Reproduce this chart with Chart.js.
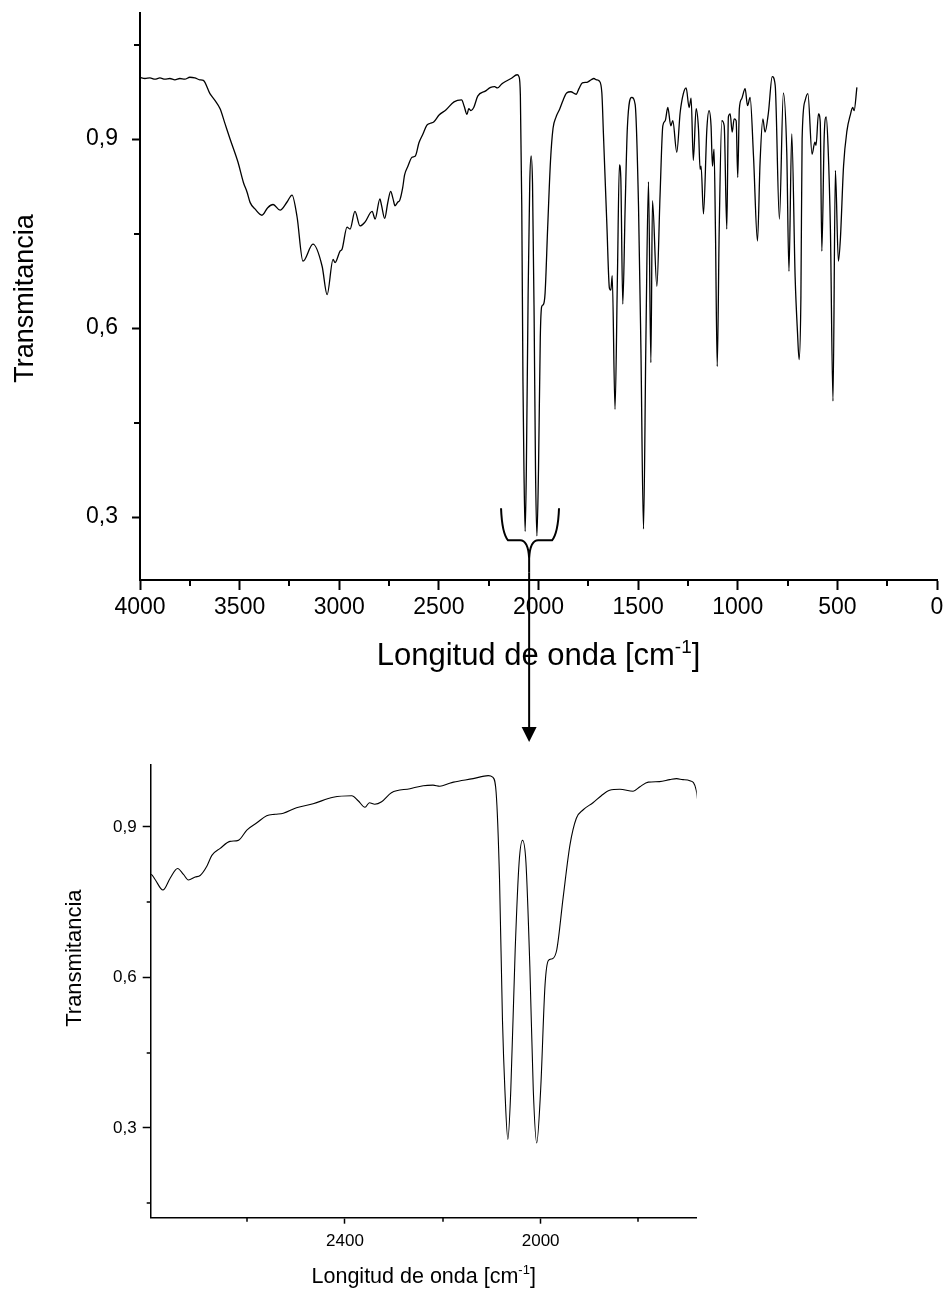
<!DOCTYPE html>
<html lang="es">
<head>
<meta charset="utf-8">
<title>Espectro IR</title>
<script src="https://cdn.jsdelivr.net/npm/chart.js@4.4.1/dist/chart.umd.min.js"></script>
<style>
  html, body { margin: 0; padding: 0; background: #fff; }
  #contenedor { position: relative; width: 950px; height: 1290px; }
  #graficoCompleto { position: absolute; left: 0; top: 0; }
  #graficoDetalle { position: absolute; left: 0; top: 750px; }
</style>
</head>
<body>
<div id="contenedor">
  <canvas id="graficoCompleto" width="950" height="750"></canvas>
  <canvas id="graficoDetalle" width="950" height="540"></canvas>
</div>
<script>
// Espectro: número de onda [cm-1] y transmitancia
const numerosOnda = [
    4000, 3975, 3950, 3925, 3900, 3875, 3850, 3825, 3800, 3775,
    3750, 3725, 3700, 3682, 3649, 3623, 3598, 3573, 3548, 3508,
    3481, 3463, 3447, 3423, 3388, 3359, 3332, 3297, 3262, 3237,
    3212, 3182, 3132, 3086, 3061, 3031, 3021, 2996, 2986, 2961,
    2946, 2921, 2896, 2871, 2835, 2820, 2796, 2788, 2772, 2757,
    2742, 2730, 2720, 2706, 2696, 2682, 2672, 2655, 2635, 2618,
    2600, 2580, 2560, 2543, 2526, 2499, 2465, 2424, 2386, 2373,
    2359, 2350, 2339, 2325, 2305, 2267, 2240, 2220, 2206, 2186,
    2178, 2138, 2107, 2098, 2091, 2084, 2078, 2073, 2067, 2061,
    2052, 2044, 2037, 2030, 2022, 2015, 2008, 2000, 1991, 1984,
    1976, 1967, 1954, 1940, 1927, 1913, 1893, 1876, 1859, 1838,
    1811, 1797, 1780, 1757, 1736, 1722, 1709, 1695, 1682, 1674,
    1657, 1644, 1637, 1630, 1616, 1604, 1594, 1587, 1577, 1565,
    1554, 1532, 1515, 1498, 1486, 1473, 1461, 1448, 1436, 1428,
    1406, 1390, 1376, 1364, 1351, 1336, 1326, 1306, 1289, 1273,
    1259, 1244, 1234, 1223, 1209, 1197, 1189, 1184, 1172, 1155,
    1144, 1134, 1127, 1119, 1112, 1103, 1093, 1080, 1068, 1055,
    1047, 1038, 1028, 1018, 1008, 1000, 992, 980, 963, 951,
    938, 921, 901, 888, 874, 863, 846, 827, 812, 791,
    771, 754, 743, 729, 712, 700, 692, 683, 677, 662,
    648, 627, 613, 607, 595, 586, 578, 566, 556, 547,
    535, 522, 510, 495, 485, 469, 452, 436, 423, 416,
    402
];

const transmitancia = [
    0.998, 0.996, 0.997, 0.995, 0.997, 0.995, 0.996, 0.994, 0.996, 0.995,
    0.998, 0.997, 0.994, 0.993, 0.972, 0.961, 0.948, 0.924, 0.900, 0.863,
    0.831, 0.816, 0.799, 0.789, 0.779, 0.791, 0.796, 0.787, 0.800, 0.811,
    0.777, 0.706, 0.733, 0.698, 0.653, 0.709, 0.704, 0.722, 0.725, 0.760,
    0.757, 0.785, 0.762, 0.768, 0.785, 0.773, 0.805, 0.795, 0.774, 0.798,
    0.817, 0.805, 0.794, 0.800, 0.803, 0.822, 0.843, 0.857, 0.871, 0.873,
    0.894, 0.908, 0.922, 0.925, 0.927, 0.938, 0.946, 0.959, 0.962, 0.952,
    0.939, 0.948, 0.945, 0.950, 0.968, 0.976, 0.982, 0.983, 0.981, 0.987,
    0.989, 0.996, 1.002, 0.999, 0.969, 0.795, 0.515, 0.375, 0.277, 0.375,
    0.655, 0.829, 0.873, 0.829, 0.620, 0.375, 0.270, 0.375, 0.585, 0.634,
    0.637, 0.655, 0.759, 0.864, 0.917, 0.934, 0.948, 0.962, 0.973, 0.975,
    0.971, 0.980, 0.989, 0.990, 0.994, 0.996, 0.994, 0.992, 0.973, 0.907,
    0.765, 0.663, 0.660, 0.683, 0.471, 0.680, 0.859, 0.839, 0.638, 0.793,
    0.918, 0.966, 0.955, 0.793, 0.567, 0.281, 0.580, 0.832, 0.545, 0.802,
    0.666, 0.810, 0.921, 0.929, 0.950, 0.921, 0.929, 0.879, 0.942, 0.972,
    0.981, 0.950, 0.965, 0.866, 0.948, 0.916, 0.852, 0.857, 0.781, 0.916,
    0.945, 0.921, 0.857, 0.884, 0.757, 0.539, 0.757, 0.929, 0.921, 0.757,
    0.935, 0.940, 0.911, 0.932, 0.929, 0.839, 0.948, 0.964, 0.980, 0.953,
    0.966, 0.873, 0.738, 0.863, 0.932, 0.911, 0.942, 0.999, 0.985, 0.773,
    0.973, 0.879, 0.690, 0.908, 0.681, 0.592, 0.550, 0.650, 0.900, 0.961,
    0.972, 0.876, 0.895, 0.890, 0.940, 0.927, 0.722, 0.905, 0.935, 0.890,
    0.757, 0.484, 0.850, 0.706, 0.741, 0.857, 0.913, 0.937, 0.950, 0.945,
    0.982
];

// Marcas y etiquetas del espectro completo
const marcasX1 = [4000, 3750, 3500, 3250, 3000, 2750, 2500, 2250, 2000, 1750, 1500, 1250, 1000, 750, 500, 250, 0];
const etiquetasX1 = ['4000', '', '3500', '', '3000', '', '2500', '', '2000', '', '1500', '', '1000', '', '500', '', '0'];
const marcasY1 = [0.3, 0.45, 0.6, 0.75, 0.9, 1.05];
const etiquetasY1 = ['0,3', '', '0,6', '', '0,9', ''];

// Marcas y etiquetas de la ampliación
const marcasX2 = [2600, 2400, 2200, 2000, 1800];
const etiquetasX2 = ['', '2400', '', '2000', ''];
const marcasY2 = [0.15, 0.3, 0.45, 0.6, 0.75, 0.9];
const etiquetasY2 = ['', '0,3', '', '0,6', '', '0,9'];

const FUENTE = '"Liberation Sans", Arial, Helvetica, sans-serif';
Chart.defaults.font.family = FUENTE;
Chart.defaults.color = '#000';

const puntos = numerosOnda.map((x, i) => ({ x: x, y: transmitancia[i] }));

// Solo las marcas con etiqueta se dibujan largas; las otras las pinta el plugin
function colorMarca(etiquetas) {
    return ctx => etiquetas[ctx.index] ? '#000' : 'rgba(0,0,0,0)';
}

function escalaX(c) {
    return {
        type: 'linear',
        reverse: true,
        min: c.min,
        max: c.max,
        border: { color: '#000', width: c.grosor },
        grid: { drawOnChartArea: false, tickLength: c.largo, tickWidth: c.grosor, tickColor: colorMarca(c.etiquetas) },
        ticks: {
            autoSkip: false, maxRotation: 0, padding: c.separacion,
            font: { size: c.fuente },
            callback: (v, i) => c.etiquetas[i]
        },
        afterBuildTicks: escala => { escala.ticks = c.marcas.map(v => ({ value: v })); },
        afterFit: escala => {
            escala.height = c.alto;
            escala.paddingLeft = 0;
            escala.paddingRight = 0;
        }
    };
}

function escalaY(c) {
    return {
        type: 'linear',
        min: c.min,
        max: c.max,
        border: { color: '#000', width: c.grosor },
        grid: { drawOnChartArea: false, tickLength: c.largo, tickWidth: c.grosor, tickColor: colorMarca(c.etiquetas) },
        ticks: {
            autoSkip: false, padding: c.separacion,
            font: { size: c.fuente },
            callback: (v, i) => c.etiquetas[i]
        },
        afterBuildTicks: escala => { escala.ticks = c.marcas.map(v => ({ value: v })); },
        afterFit: escala => {
            escala.width = c.ancho;
            escala.paddingTop = 0;
            escala.paddingBottom = 0;
        }
    };
}

// Marcas menores (más cortas) en los dos ejes
function pluginMarcasMenores(c) {
    return {
        id: 'marcasMenores',
        afterDraw(chart) {
            const ctx = chart.ctx;
            const ex = chart.scales.x, ey = chart.scales.y;
            ctx.save();
            ctx.strokeStyle = '#000';
            ctx.lineWidth = c.grosor;
            ctx.beginPath();
            c.marcasX.forEach((v, i) => {
                if (c.etiquetasX[i]) return;
                const px = Math.round(ex.getPixelForValue(v));
                ctx.moveTo(px, ex.top);
                ctx.lineTo(px, ex.top + c.largoX);
            });
            c.marcasY.forEach((v, i) => {
                if (c.etiquetasY[i]) return;
                const py = Math.round(ey.getPixelForValue(v));
                ctx.moveTo(ey.right, py);
                ctx.lineTo(ey.right - c.largoY, py);
            });
            ctx.stroke();
            ctx.restore();
        }
    };
}

// Títulos de los ejes, con el exponente de cm^-1
function pluginTitulos(c) {
    return {
        id: 'titulos',
        afterDraw(chart) {
            const ctx = chart.ctx;
            const a = chart.chartArea;
            ctx.save();
            ctx.fillStyle = '#000';
            ctx.textBaseline = 'alphabetic';
            const normal = c.tamX + 'px ' + FUENTE;
            const chica = Math.round(c.tamX * 0.6) + 'px ' + FUENTE;
            const partes = [['Longitud de onda [cm', normal, 0], ['-1', chica, -c.tamX * 0.4], [']', normal, 0]];
            let total = 0;
            partes.forEach(p => { ctx.font = p[1]; total += ctx.measureText(p[0]).width; });
            let x = (a.left + a.right) / 2 - total / 2;
            const y = a.bottom + c.baseX;
            partes.forEach(p => {
                ctx.font = p[1];
                ctx.fillText(p[0], x, y + p[2]);
                x += ctx.measureText(p[0]).width;
            });
            ctx.font = c.tamY + 'px ' + FUENTE;
            ctx.translate(a.left - c.baseY, (a.top + a.bottom) / 2 + c.corrY);
            ctx.rotate(-Math.PI / 2);
            ctx.textAlign = 'center';
            ctx.fillText('Transmitancia', 0, 0);
            ctx.restore();
        }
    };
}

// Llave sobre la zona de 2100-1900 cm-1 y flecha hacia la ampliación
function pluginLlave(c) {
    return {
        id: 'llave',
        afterDraw(chart) {
            const ctx = chart.ctx;
            const ex = chart.scales.x, ey = chart.scales.y;
            const xi = ex.getPixelForValue(c.desde);
            const xd = ex.getPixelForValue(c.hasta);
            const xc = ex.getPixelForValue(c.centro);
            const ya = ey.getPixelForValue(c.arriba);
            const yl = ey.getPixelForValue(c.linea);
            const yp = ey.getPixelForValue(c.punta);
            const r = 7;
            ctx.save();
            ctx.strokeStyle = '#000';
            ctx.fillStyle = '#000';
            ctx.lineWidth = 2;
            ctx.beginPath();
            ctx.moveTo(xi, ya);
            ctx.quadraticCurveTo(xi + 1, yl - r, xi + r, yl);
            ctx.lineTo(xc - 9, yl);
            ctx.quadraticCurveTo(xc - 1, yl, xc, yl + 18);
            ctx.moveTo(xd, ya);
            ctx.quadraticCurveTo(xd - 1, yl - r, xd - r, yl);
            ctx.lineTo(xc + 9, yl);
            ctx.quadraticCurveTo(xc + 1, yl, xc, yl + 18);
            ctx.moveTo(xc, yl + 18);
            ctx.lineTo(xc, yp);
            ctx.stroke();
            // flecha
            const fin = chart.height - c.margenFlecha;
            ctx.beginPath();
            ctx.moveTo(xc, yp);
            ctx.lineTo(xc, fin - 14);
            ctx.stroke();
            ctx.beginPath();
            ctx.moveTo(xc - 7.5, fin - 15);
            ctx.lineTo(xc + 7.5, fin - 15);
            ctx.lineTo(xc, fin);
            ctx.closePath();
            ctx.fill();
            ctx.restore();
        }
    };
}

function crearGrafico(id, escalas, padding, grosorLinea, plugins) {
    const ctx = document.getElementById(id).getContext('2d');
    return new Chart(ctx, {
        type: 'line',
        data: {
            datasets: [{
                data: puntos,
                borderColor: '#000',
                borderWidth: grosorLinea,
                pointRadius: 0,
                fill: false,
                cubicInterpolationMode: 'monotone'
            }]
        },
        options: {
            responsive: false,
            animation: false,
            events: [],
            layout: { padding: padding },
            plugins: { legend: { display: false }, tooltip: { enabled: false } },
            scales: escalas
        },
        plugins: plugins
    });
}

// Espectro completo
crearGrafico('graficoCompleto', {
    x: escalaX({ min: 0, max: 4000, marcas: marcasX1, etiquetas: etiquetasX1, grosor: 2, largo: 10, separacion: 4, fuente: 23, alto: 170 }),
    y: escalaY({ min: 0.2, max: 1.1, marcas: marcasY1, etiquetas: etiquetasY1, grosor: 2, largo: 8, separacion: 14, fuente: 23, ancho: 140 })
}, { left: 0, right: 13, top: 13, bottom: 0 }, 1.3, [
    pluginMarcasMenores({ marcasX: marcasX1, etiquetasX: etiquetasX1, marcasY: marcasY1, etiquetasY: etiquetasY1, grosor: 2, largoX: 6, largoY: 6 }),
    pluginTitulos({ tamX: 31, baseX: 85, tamY: 27, baseY: 107, corrY: 2 }),
    pluginLlave({ desde: 2188, hasta: 1897, centro: 2047, arriba: 0.314, linea: 0.263, punta: 0.212, margenFlecha: 8 })
]);

// Ampliación de la zona 2800-1680 cm-1
crearGrafico('graficoDetalle', {
    x: escalaX({ min: 1681, max: 2797, marcas: marcasX2, etiquetas: etiquetasX2, grosor: 1.5, largo: 6, separacion: 7, fuente: 17, alto: 72.3 }),
    y: escalaY({ min: 0.121, max: 1.024, marcas: marcasY2, etiquetas: etiquetasY2, grosor: 1.5, largo: 8, separacion: 6, fuente: 17, ancho: 150.7 })
}, { left: 0, right: 253.3, top: 14.6, bottom: 0 }, 1.1, [
    pluginMarcasMenores({ marcasX: marcasX2, etiquetasX: etiquetasX2, marcasY: marcasY2, etiquetasY: etiquetasY2, grosor: 1.5, largoX: 4, largoY: 4 }),
    pluginTitulos({ tamX: 21.5, baseX: 65, tamY: 22, baseY: 70, corrY: -33 })
]);
</script>
</body>
</html>
